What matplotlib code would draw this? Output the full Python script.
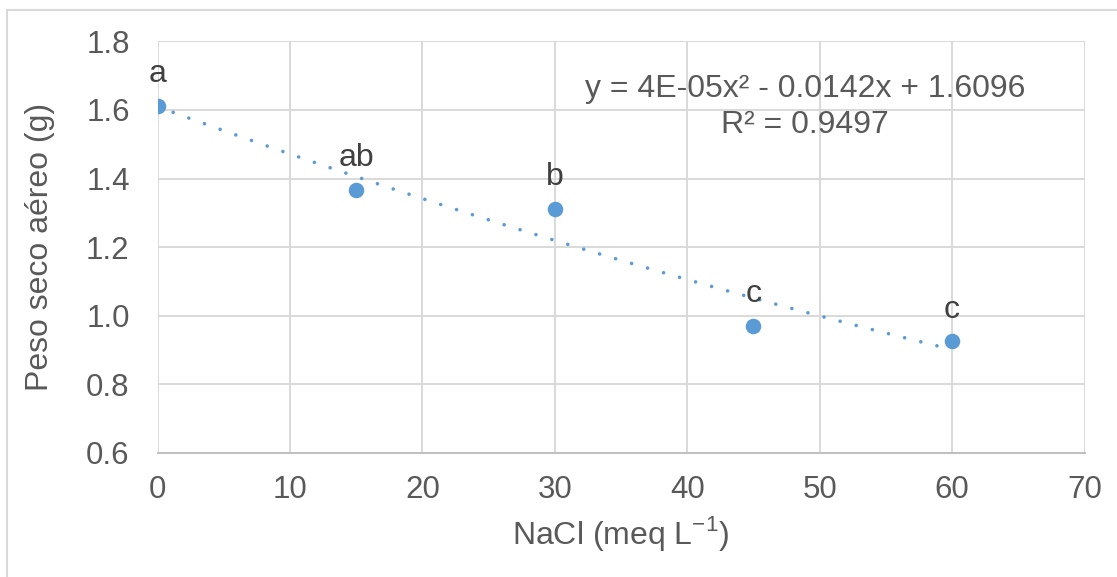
import numpy as np
import matplotlib
matplotlib.use("Agg")
import matplotlib.pyplot as plt
from matplotlib.lines import Line2D

plt.rcParams['font.family'] = ['Liberation Sans', 'DejaVu Sans']
plt.rcParams['mathtext.fontset'] = 'custom'
plt.rcParams['mathtext.rm'] = 'Liberation Sans'

# Data
nacl = [0, 15, 30, 45, 60]
peso = [1.612, 1.368, 1.311, 0.970, 0.926]
letras = ['a', 'ab', 'b', 'c', 'c']
x_ticks = [0, 10, 20, 30, 40, 50, 60, 70]
y_ticks = [0.6, 0.8, 1.0, 1.2, 1.4, 1.6, 1.8]
coef = [4e-05, -0.0142, 1.6096]
eq_text = "y = 4E-05x² - 0.0142x + 1.6096"
r2_text = "R² = 0.9497"

W, H = 1117, 577
fig = plt.figure(figsize=(W / 100, H / 100), dpi=100)
fig.patch.set_facecolor('white')

left, right, top, bottom = 157.5, 1084.5, 41.3, 453.0
ax = fig.add_axes([left / W, 1 - bottom / H, (right - left) / W, (bottom - top) / H])

blue = '#5b9bd5'
grid_c = '#d9d9d9'
text_c = '#595959'
fs = 23

ax.set_xlim(0, 70)
ax.set_ylim(0.6, 1.8)
ax.set_xticks(x_ticks)
ax.set_yticks(y_ticks)
ax.set_xticklabels([str(v) for v in x_ticks])
ax.set_yticklabels([f"{v:.1f}" for v in y_ticks])
ax.tick_params(length=0, labelsize=22.5, labelcolor=text_c)
ax.tick_params(axis='y', pad=20)
ax.tick_params(axis='x', pad=16)
ax.grid(True, color=grid_c, linewidth=1.4)
ax.set_axisbelow(True)
for s in ['left', 'top', 'right']:
    ax.spines[s].set_visible(False)
ax.spines['bottom'].set_color('#bfbfbf')
ax.spines['bottom'].set_linewidth(1.4)

# Trend line (polynomial order 2, coefficients shown on chart)
xs = np.linspace(0, 60, 300)
ax.plot(xs, np.polyval(coef, xs), color=blue, linewidth=2.6,
        linestyle=(0, (0.01, 4.6)), dash_capstyle='round', zorder=2)

ax.scatter(nacl, peso, s=125, color=blue, zorder=3, linewidths=0)

for xv, yv, t in zip(nacl, peso, letras):
    ax.annotate(t, (xv, yv), xytext=(0, 17), textcoords='offset points',
                ha='center', va='baseline', fontsize=fs, color='#404040')

ax.text(48.9, 1.6385, eq_text, ha='center', va='baseline', fontsize=fs, color=text_c)
ax.text(48.9, 1.5335, r2_text, ha='center', va='baseline', fontsize=fs, color=text_c)

ax.set_xlabel("NaCl (meq L$^{\\mathregular{-1}}$)", fontsize=fs, color=text_c, labelpad=6)
fig.text(40 / W, 1 - 247 / H, "Peso seco aéreo (g)", rotation=90, ha='center', va='center',
         fontsize=fs, color=text_c)

# outer chart border (top and left visible)
fig.add_artist(Line2D([7 / W, 1.0], [1 - 10 / H, 1 - 10 / H], color=grid_c, linewidth=1.5,
                      transform=fig.transFigure))
fig.add_artist(Line2D([7 / W, 7 / W], [1 - 10 / H, 0], color=grid_c, linewidth=1.5,
                      transform=fig.transFigure))

fig.savefig('out.png', dpi=100, facecolor='white')
